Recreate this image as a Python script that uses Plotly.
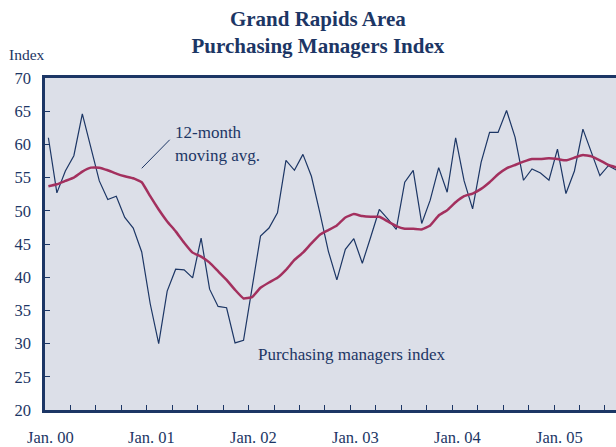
import plotly.graph_objects as go

# Monthly data, Jan 2000 .. Aug 2005
pmi = [
    61.0, 52.7, 56.0, 58.3, 64.6, 59.5, 54.5, 51.7, 52.2, 49.0, 47.4, 43.8,
    36.0, 30.0, 37.9, 41.2, 41.1, 39.9, 45.9, 38.2, 35.6, 35.4, 30.1, 30.5,
    38.2, 46.2, 47.4, 49.7, 57.6, 56.1, 58.5, 55.2, 49.7, 43.9, 39.6, 44.2,
    45.8, 42.1, 46.1, 50.2, 48.8, 47.2, 54.3, 56.1, 48.1, 51.6, 56.5, 52.8,
    61.0, 54.5, 50.3, 57.3, 61.8, 61.8, 65.1, 61.1, 54.6, 56.3, 55.7, 54.6,
    59.3, 52.6, 56.0, 62.3, 58.8, 55.3, 56.8, 56.1,
]
moving_avg = [
    53.7, 54.0, 54.5, 55.0, 55.9, 56.5, 56.5, 56.1, 55.6, 55.2, 54.9, 54.3,
    52.2, 50.2, 48.4, 46.9, 45.2, 43.7, 43.1, 42.2, 40.9, 39.6, 38.1, 36.8,
    37.0, 38.4, 39.2, 39.9, 41.1, 42.6, 43.7, 45.1, 46.4, 47.1, 47.8, 49.0,
    49.5, 49.2, 49.1, 49.1, 48.4, 47.7, 47.3, 47.3, 47.2, 47.8, 49.3, 50.1,
    51.3, 52.2, 52.6, 53.3, 54.3, 55.5, 56.4, 56.9, 57.4, 57.8, 57.8, 57.9,
    57.8, 57.6, 58.0, 58.4, 58.2, 57.6, 56.9, 56.5,
]
year_labels = ["Jan. 00", "Jan. 01", "Jan. 02", "Jan. 03", "Jan. 04", "Jan. 05"]
y_ticks = [20, 25, 30, 35, 40, 45, 50, 55, 60, 65, 70]

months = [i + 0.4 for i in range(len(pmi))]

NAVY = "#1c3665"
RED = "#a3305e"
FONT = "Liberation Serif"

fig = go.Figure()
fig.add_trace(go.Scatter(x=months, y=pmi, mode="lines",
                         line=dict(color=NAVY, width=1.2), showlegend=False))
fig.add_trace(go.Scatter(x=months, y=moving_avg, mode="lines",
                         line=dict(color=RED, width=2.5, shape="spline", smoothing=0.3),
                         showlegend=False))

annotations = []
for k, lab in enumerate(year_labels):
    annotations.append(dict(x=12 * k + 0.6, y=-0.082, xref="x", yref="paper",
                            text=lab, showarrow=False, xanchor="center", yanchor="middle",
                            font=dict(family=FONT, size=16.5, color=NAVY)))
annotations += [
    dict(x=-0.066, y=1.07, xref="paper", yref="paper", text="Index", showarrow=False,
         xanchor="left", yanchor="middle",
         font=dict(family=FONT, size=15.5, color=NAVY)),
    dict(x=15.1, y=61.8, xref="x", yref="y", text="12-month", showarrow=False,
         xanchor="left", yanchor="middle", font=dict(family=FONT, size=17, color=NAVY)),
    dict(x=15.1, y=58.4, xref="x", yref="y", text="moving avg.", showarrow=False,
         xanchor="left", yanchor="middle", font=dict(family=FONT, size=17, color=NAVY)),
    dict(x=24.9, y=28.3, xref="x", yref="y", text="Purchasing managers index",
         showarrow=False, xanchor="left", yanchor="middle",
         font=dict(family=FONT, size=17, color=NAVY)),
]

fig.update_layout(
    width=616, height=447,
    margin=dict(l=45, r=0, t=78, b=37, autoexpand=False),
    paper_bgcolor="white",
    plot_bgcolor="#dcdfe8",
    title=dict(text="<b>Grand Rapids Area<br>Purchasing Managers Index</b>",
               x=0.516, xanchor="center", y=0.942, yanchor="top",
               font=dict(family=FONT, size=21, color=NAVY)),
    annotations=annotations,
    shapes=[dict(type="line", xref="x", yref="y", x0=11.4, y0=56.4, x1=14.7, y1=60.7,
                 line=dict(color=NAVY, width=1))],
    xaxis=dict(range=[0, 67.3], tickmode="array", tickvals=list(range(0, 67, 3)),
               ticktext=[""] * 23, ticks="inside", ticklen=5, tickwidth=1.2,
               tickcolor=NAVY, showline=True, linecolor=NAVY, linewidth=2.5,
               mirror=True, showgrid=False, zeroline=False, automargin=False),
    yaxis=dict(range=[20, 70], tickmode="array", tickvals=y_ticks,
               ticks="inside", ticklen=5, tickwidth=1.2, tickcolor=NAVY,
               showline=True, linecolor=NAVY, linewidth=2.5, showgrid=False,
               zeroline=False, ticklabelstandoff=8, automargin=False,
               tickfont=dict(family=FONT, size=16.5, color=NAVY)),
)

fig.write_html("out.html", config={"displayModeBar": False},
               post_script="document.body.style.margin='0';")
